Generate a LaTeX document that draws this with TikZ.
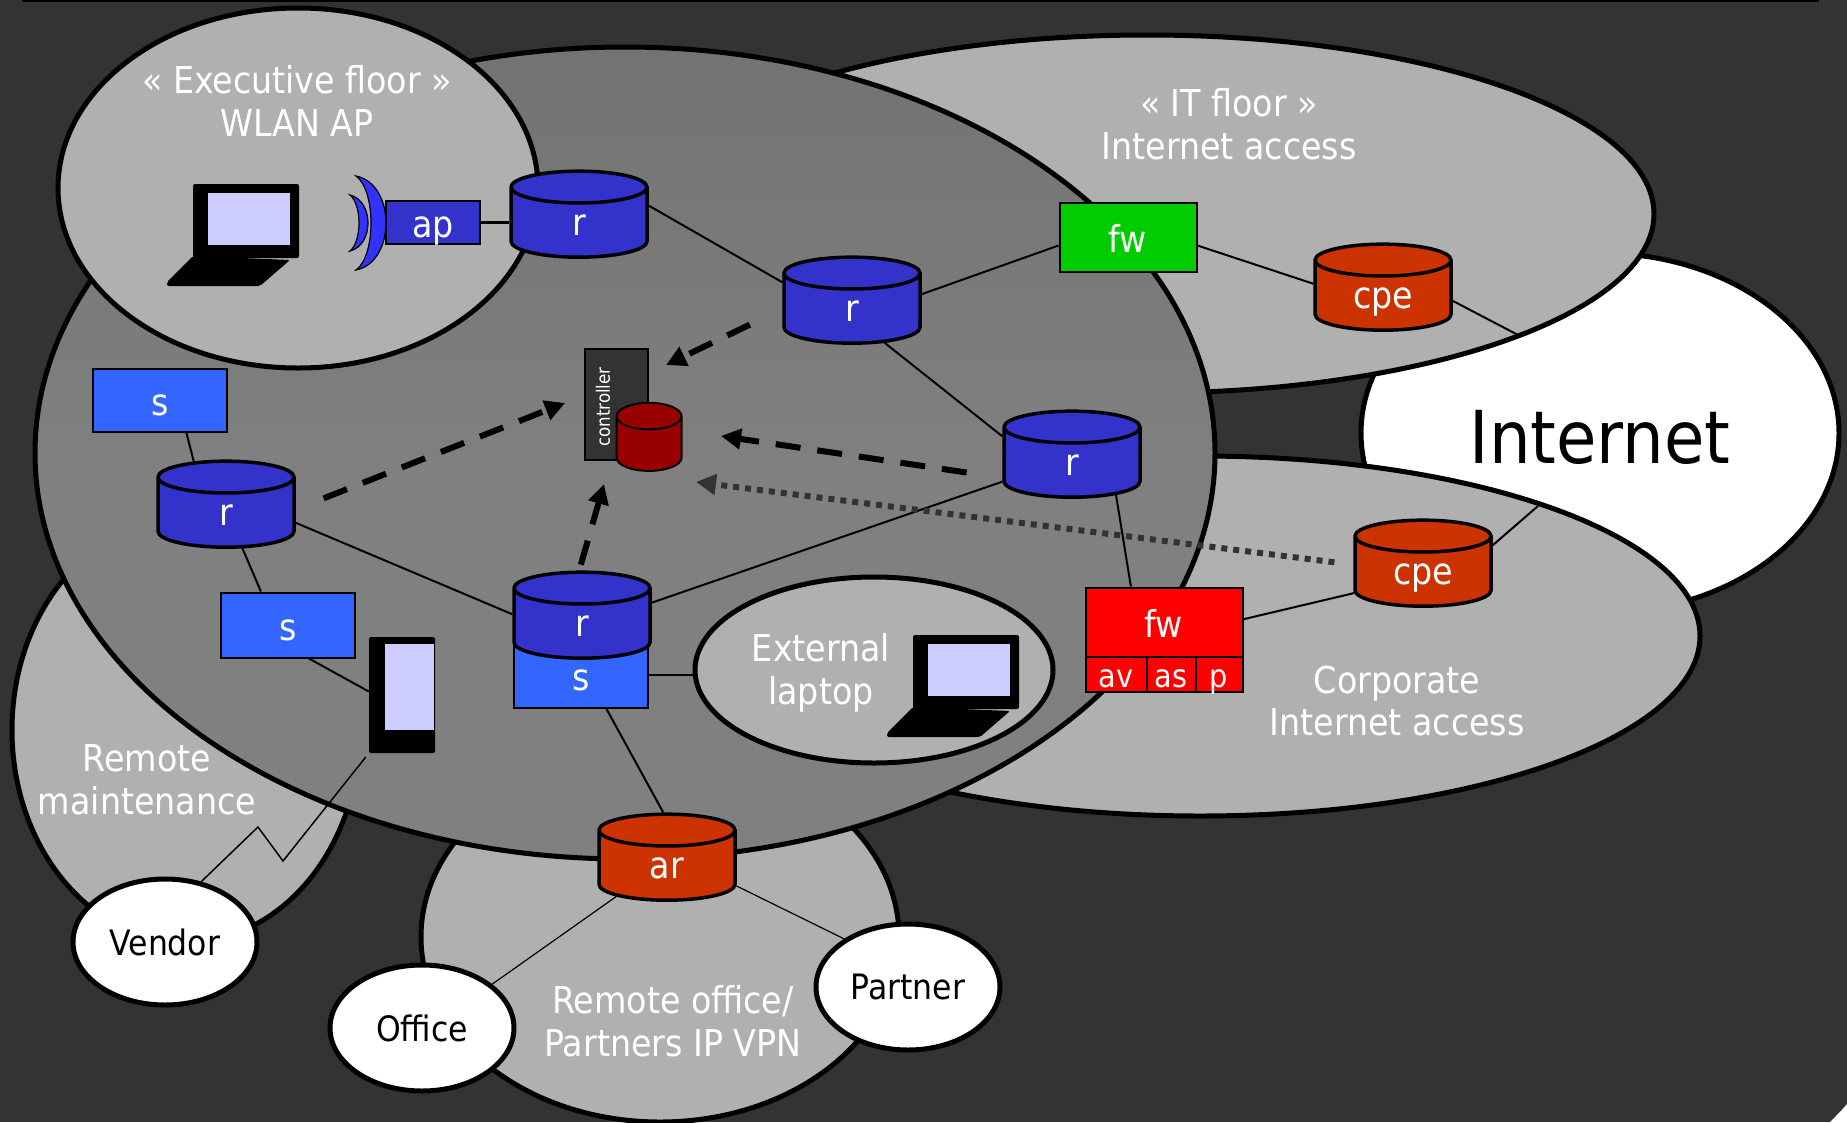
\documentclass[tikz,border=0pt]{standalone}
\usepackage{fontspec}
\setmainfont{DejaVu Sans Condensed}
\usetikzlibrary{shapes.geometric,arrows.meta}
\definecolor{bgdark}{HTML}{333333}
\definecolor{cloudgray}{HTML}{B0B0B0}
\definecolor{routerblue}{HTML}{3333CC}
\definecolor{switchblue}{HTML}{3366FF}
\definecolor{edgeorange}{HTML}{CC3300}
\definecolor{screenlilac}{HTML}{CCCCFF}
\tikzset{
  cloud/.style={ellipse,draw=black,line width=5pt,fill=cloudgray,inner sep=0pt},
  hostoval/.style={ellipse,draw=black,line width=5pt,fill=white,inner sep=0pt,minimum width=184pt,minimum height=126pt,font=\fontsize{35}{42}\selectfont},
  tag/.style={align=center,text=white,font=\fontsize{37}{42.5}\selectfont},
  drum/.style={cylinder,shape border rotate=90,aspect=0.53,draw=black,line width=3.5pt,minimum width=136pt,minimum height=86pt,inner sep=0pt,text=white,text width=60pt,align=center,text height=24pt,text depth=0pt,font=\fontsize{37}{42}\selectfont,cylinder uses custom fill,cylinder body fill=#1,cylinder end fill=#1},
  box/.style={rectangle,draw=black,line width=2pt,text=white,inner sep=0pt,text height=30pt,text depth=0pt,font=\fontsize{37}{42}\selectfont,fill=#1},
  cell/.style={box=red,minimum height=35pt,text height=27pt,font=\fontsize{32}{38}\selectfont},
  wire/.style={line width=2pt},
  poll/.style={line width=6pt,dash pattern=on 25pt off 17pt,-{Triangle[length=20pt,width=20pt]}},
  laptop/.pic={
    \fill[rounded corners=2pt] (0,0) rectangle (106,74);
    \fill[rounded corners=2pt] (0,72) -- (97,76) -- (67,102) -- (-26,102) -- (-26,98) -- cycle;
    \fill[screenlilac] (15,9) rectangle (97,61);
  },
}
\begin{document}
\begin{tikzpicture}[x=1pt,y=-1pt]
  \useasboundingbox (0,0) rectangle (1847,1122);
  \fill[bgdark] (0,0) rectangle (1847,1122);
  \draw[line width=4pt] (22,0) -- (1819,0);
  \fill[white] (1830,1122) .. controls (1836,1116) and (1842,1110) .. (1847,1104) -- (1847,1122) -- cycle;

  \node[ellipse,draw=black,line width=5pt,fill=white,minimum width=478pt,minimum height=360pt,inner sep=0pt] (internet) at (1600,433) {};
  \node[font=\fontsize{73}{86}\selectfont] (internettext) at (1600,437) {Internet};
  \node[cloud,minimum width=1014pt,minimum height=358pt] (itfloor) at (1147,214) {};
  \node[cloud,minimum width=1000pt,minimum height=360pt] (corporate) at (1200,636) {};
  \node[cloud,minimum width=348pt,minimum height=424pt] (maintenance) at (186,730) {};
  \node[cloud,minimum width=478pt,minimum height=370pt] (remoteoffice) at (660,937) {};
  \node[ellipse,draw=black,line width=5pt,top color=black!55,bottom color=black!50,middle color=black!50,minimum width=1180pt,minimum height=812pt,inner sep=0pt] (wan) at (625,453) {};
  \node[cloud,minimum width=480pt,minimum height=360pt] (executive) at (298,188) {};
  \node[cloud,minimum width=358pt,minimum height=186pt] (external) at (874,670) {};

  \node[hostoval] (vendor) at (165,942) {Vendor};
  \node[hostoval] (office) at (422,1028) {Office};
  \node[hostoval] (partner) at (908,987) {Partner};

  \node[tag] (executivetag) at (297,101) {« Executive floor »\\WLAN AP};
  \node[tag] (ittag) at (1229,124) {« IT floor »\\Internet access};
  \node[tag] (maintenancetag) at (147,780) {Remote\\maintenance};
  \node[tag] (externaltag) at (821,673) {External\\laptop};
  \node[tag] (corporatetag) at (1397,701) {Corporate\\Internet access};
  \node[tag] (officetag) at (673,1021) {Remote office/\\Partners IP VPN};

  \node[box=switchblue,minimum width=134pt,minimum height=63pt] (s1) at (160,400) {s};
  \node[box=switchblue,minimum width=134pt,minimum height=65pt] (s2) at (288,625) {s};
  \node[box=switchblue,minimum width=134pt,minimum height=65pt] (s3) at (581,675) {s};
  \node[drum=routerblue] (r1) at (579,223) {r};
  \node[drum=routerblue] (r2) at (852,309) {r};
  \node[drum=routerblue] (r3) at (1072,463) {r};
  \node[drum=routerblue] (r4) at (226,513) {r};
  \node[drum=routerblue] (r5) at (582,624) {r};
  \node[drum=edgeorange] (cpe1) at (1383,296) {cpe};
  \node[drum=edgeorange] (cpe2) at (1423,572) {cpe};
  \node[drum=edgeorange] (ar) at (667,866) {ar};
  \node[box=routerblue,minimum width=94pt,minimum height=43pt] (ap) at (433,222) {ap};
  \node[box=green!80!black,minimum width=137pt,minimum height=69pt] (fw1) at (1128,237) {fw};
  \node[box=red,minimum width=157pt,minimum height=69pt] (fw2) at (1164,622) {fw};
  \node[cell,minimum width=61pt] (av) at (1116,674) {av};
  \node[cell,minimum width=49pt] (as) at (1171,674) {as};
  \node[cell,minimum width=47pt] (p) at (1219,674) {p};
  \node[box=bgdark,minimum width=63pt,minimum height=111pt] (controller) at (616,404) {};
  \node[rotate=90,text=white,font=\fontsize{18.5}{22}\selectfont] (controllertext) at (603,407) {controller};
  \node[cylinder,shape border rotate=90,aspect=0.53,text width=50pt,draw=black,line width=2pt,minimum width=65pt,minimum height=68pt,inner sep=0pt,cylinder uses custom fill,cylinder body fill=red!60!black,cylinder end fill=red!60!black] (store) at (649,444) {};

  % access point dishes
  \draw[line width=1.2pt,fill=blue!80!white] (356,176) .. controls (376,190) and (376,256) .. (356,270) .. controls (396,262) and (396,184) .. (356,176) -- cycle;
  \draw[line width=1.2pt,fill=blue!80!white] (350,195) .. controls (362,205) and (362,241) .. (350,251) .. controls (374,245) and (374,201) .. (350,195) -- cycle;

  \pic at (193,184) {laptop};
  \pic at (913,635) {laptop};
  \node[rectangle,fill=black,rounded corners=2pt,minimum width=66pt,minimum height=116pt,inner sep=0pt] (phone) at (402,695) {};
  \fill[screenlilac] (385,644) rectangle (434,730);

  \coordinate (cpeout1) at (1520,336);
  \coordinate (cpeout2) at (1538,506);
  \coordinate (zigtop) at (258,827);
  \coordinate (zigend) at (283,861);
  \coordinate (tipa) at (666,365);
  \coordinate (tipb) at (565,403);
  \coordinate (tipc) at (721,436);
  \coordinate (tipd) at (604,484);
  \coordinate (tipe) at (696,482);

  \draw[line width=3pt] (ap) -- (r1.west |- ap);
  \draw[wire] (r1.14) -- (r2.159);
  \draw[wire] (r2.12) -- (fw1.187);
  \draw[wire] (fw1.-7) -- (cpe1.170);
  \draw[wire] (cpe1.-4) -- (cpeout1);
  \draw[wire] (r2.-46) -- (r3.159);
  \draw[wire] (r3.-36) -- (fw2.133);
  \draw[wire] (r3.195) -- (r5.17);
  \draw[wire] (fw2.2) -- (cpe2.197);
  \draw[wire] (cpe2.21) -- (cpeout2);
  \draw[wire] (r4.122) -- (s1.-51);
  \draw[wire] (r4.-65) -- (s2.129);
  \draw[wire] (r4.-8) -- (r5.172);
  \draw[wire] (s2.-58) -- (phone.174);
  \draw[line width=2.5pt] (s3.east) -- (external.west |- s3.east);
  \draw[wire] (s3.-53) -- (ar.94);
  \draw[line width=1.2pt] (ar.211) -- (office.32);
  \draw[line width=1.2pt] (ar.-16) -- (partner.143);
  \draw[line width=1.5pt,shorten <=5pt] (phone.south west) -- (zigend) -- (zigtop) -- (vendor.59);

  \draw[poll,shorten <=36pt] (r2.180) -- (tipa);
  \draw[poll,shorten <=30pt] (r4.3) -- (tipb);
  \draw[poll,shorten <=36pt] (r3.192) -- (tipc);
  \draw[poll,shorten <=6pt] (r5.93) -- (tipd);
  \draw[line width=6pt,bgdark,dash pattern=on 6pt off 6pt,-{Triangle[length=20pt,width=20pt]},shorten <=19pt] (cpe2.174) -- (tipe);
\end{tikzpicture}
\end{document}
